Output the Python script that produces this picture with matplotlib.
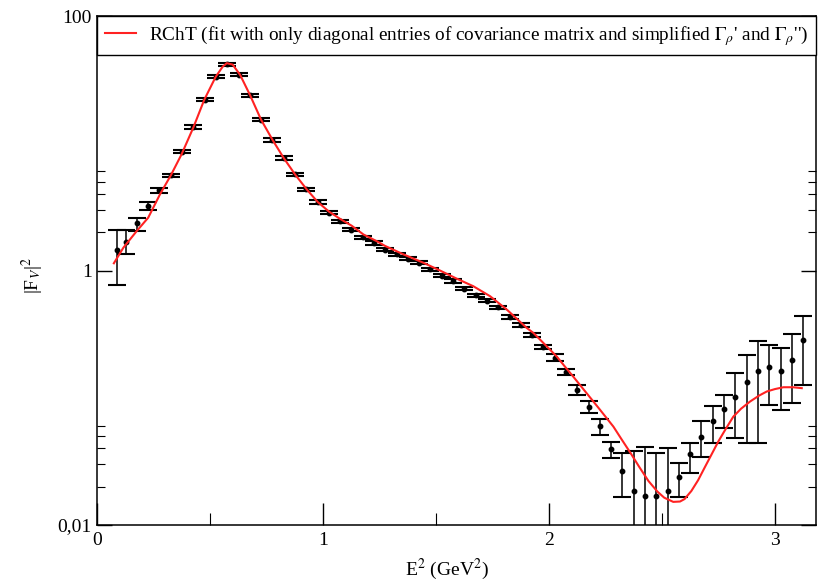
import matplotlib
matplotlib.use("Agg")
import matplotlib.pyplot as plt
from matplotlib.ticker import FixedLocator, NullFormatter

plt.rcParams['font.family'] = ['Liberation Serif', 'DejaVu Serif']
plt.rcParams['mathtext.fontset'] = 'stix'

# data points (E^2 in GeV^2, |F_V|^2)
x_data = [0.088, 0.125, 0.175, 0.225, 0.275, 0.325, 0.375, 0.425, 0.475, 0.525,
          0.575, 0.625, 0.675, 0.725, 0.775, 0.825, 0.875, 0.925, 0.975, 1.025,
          1.075, 1.125, 1.175, 1.225, 1.275, 1.325, 1.375, 1.425, 1.475, 1.525,
          1.575, 1.625, 1.675, 1.725, 1.775, 1.825, 1.875, 1.925, 1.975, 2.025,
          2.075, 2.125, 2.175, 2.225, 2.275, 2.325, 2.375, 2.425, 2.475, 2.525,
          2.575, 2.625, 2.675, 2.725, 2.775, 2.825, 2.875, 2.925, 2.975, 3.025,
          3.075, 3.125]
y_data = [1.44, 1.68, 2.37, 3.21, 4.26, 5.6, 8.6, 13.4, 21.9, 33.3,
          41.9, 34.5, 23.9, 15.3, 10.6, 7.66, 5.70, 4.34, 3.45, 2.85,
          2.44, 2.10, 1.83, 1.65, 1.46, 1.34, 1.24, 1.15, 1.02, 0.913,
          0.824, 0.718, 0.639, 0.580, 0.514, 0.432, 0.376, 0.313, 0.251, 0.207,
          0.159, 0.116, 0.0853, 0.0602, 0.0397, 0.0268, 0.0186, 0.0169, 0.0169, 0.0186,
          0.0238, 0.0362, 0.049, 0.0659, 0.0819, 0.101, 0.132, 0.163, 0.175, 0.163,
          0.199, 0.283]
y_low = [0.776, 1.35, 2.04, 2.98, 4.09, 5.43, 8.35, 13.0, 21.3, 32.3,
         40.7, 33.5, 23.2, 14.85, 10.3, 7.44, 5.53, 4.21, 3.35, 2.77,
         2.37, 2.04, 1.78, 1.60, 1.42, 1.30, 1.20, 1.115, 0.99, 0.886,
         0.80, 0.697, 0.620, 0.563, 0.499, 0.419, 0.363, 0.302, 0.242, 0.196,
         0.150, 0.105, 0.0758, 0.0511, 0.0335, 0.0167, 0.005, 0.005, 0.005, 0.005,
         0.0167, 0.0255, 0.0345, 0.0440, 0.0577, 0.0482, 0.0445, 0.0440, 0.0881, 0.0805,
         0.0908, 0.125]
y_high = [2.08, 2.08, 2.60, 3.45, 4.48, 5.77, 8.85, 13.8, 22.5, 34.3,
          43.1, 35.5, 24.6, 15.75, 10.9, 7.88, 5.87, 4.47, 3.55, 2.93,
          2.51, 2.16, 1.88, 1.70, 1.50, 1.38, 1.28, 1.185, 1.05, 0.940,
          0.85, 0.740, 0.658, 0.597, 0.529, 0.445, 0.389, 0.324, 0.260, 0.219,
          0.168, 0.125, 0.0935, 0.0680, 0.0448, 0.0371, 0.0385, 0.0409, 0.0367, 0.0402,
          0.0306, 0.0445, 0.0651, 0.0854, 0.1056, 0.156, 0.218, 0.277, 0.261, 0.246,
          0.318, 0.437]

# RChT fit curve
x_fit = [0.073, 0.115, 0.174, 0.225, 0.277, 0.326, 0.373, 0.425, 0.473, 0.524,
         0.555, 0.573, 0.599, 0.632, 0.676, 0.725, 0.776, 0.825, 0.875, 0.927,
         0.976, 1.026, 1.074, 1.126, 1.178, 1.237, 1.274, 1.355, 1.444, 1.517,
         1.593, 1.665, 1.739, 1.813, 1.901, 1.931, 2.004, 2.034, 2.07, 2.108,
         2.137, 2.175, 2.215, 2.25, 2.285, 2.32, 2.36, 2.40, 2.44, 2.48,
         2.51, 2.55, 2.58, 2.60, 2.63, 2.66, 2.69, 2.72, 2.75, 2.78,
         2.816, 2.85, 2.89, 2.93, 2.964, 3.00, 3.038, 3.08, 3.119]
y_fit = [1.14, 1.51, 2.04, 2.60, 3.96, 5.63, 8.2, 13.3, 21.9, 33.3,
         40.0, 42.6, 41.5, 34.5, 23.9, 15.3, 10.6, 7.66, 5.70, 4.34,
         3.45, 2.90, 2.55, 2.25, 1.92, 1.70, 1.56, 1.34, 1.15, 1.00,
         0.86, 0.752, 0.628, 0.493, 0.354, 0.323, 0.239, 0.211, 0.176, 0.146,
         0.126, 0.104, 0.085, 0.071, 0.0593, 0.0475, 0.0370, 0.0285, 0.0222, 0.0183,
         0.0164, 0.0152, 0.0153, 0.0160, 0.0185, 0.0225, 0.0285, 0.0360, 0.0455, 0.056,
         0.0711, 0.082, 0.0934, 0.104, 0.112, 0.117, 0.121, 0.121, 0.119]

legend_label = r"RChT (fit with only diagonal entries of covariance matrix and simplified $\Gamma_\rho$' and $\Gamma_\rho$'')"
x_label = r"E$^2$ (GeV$^2$)"
y_label = r"|F$_V$|$^2$"
x_major = [0, 1, 2, 3]
x_minor = [0.5, 1.5, 2.5]
y_major = [0.01, 1, 100]
y_major_labels = ["0,01", "1", "100"]
y_minor = [0.02, 0.03, 0.04, 0.05, 0.06, 2, 3, 4, 5, 6]

fig = plt.figure(figsize=(8.21, 5.82), dpi=100)
ax = fig.add_axes([0.1186, 0.0979, 0.8753, 0.8746])

yerr = [[y - lo for y, lo in zip(y_data, y_low)],
        [hi - y for y, hi in zip(y_data, y_high)]]
ax.errorbar(x_data, y_data, yerr=yerr, fmt='o', color='black', ms=3.2,
            elinewidth=1.1, capsize=6.3, capthick=1.5, zorder=2)
ax.plot(x_fit, y_fit, color='#ff2222', lw=1.5, label=legend_label, zorder=3)

ax.set_yscale('log')
ax.set_xlim(0, 3.182)
ax.set_ylim(0.01, 100)

ax.xaxis.set_major_locator(FixedLocator(x_major))
ax.xaxis.set_minor_locator(FixedLocator(x_minor))
ax.xaxis.set_minor_formatter(NullFormatter())
ax.set_xticklabels([str(v) for v in x_major])
ax.yaxis.set_major_locator(FixedLocator(y_major))
ax.yaxis.set_minor_locator(FixedLocator(y_minor))
ax.yaxis.set_minor_formatter(NullFormatter())
ax.set_yticklabels(y_major_labels)

ax.tick_params(axis='x', which='major', direction='in', length=15.5, width=1.0,
               labelsize=14, pad=5, top=False)
ax.tick_params(axis='x', which='minor', direction='in', length=8.5, width=0.8, top=False)
ax.tick_params(axis='y', which='major', direction='in', length=10.5, width=1.0,
               labelsize=14, pad=4, right=True)
ax.tick_params(axis='y', which='minor', direction='in', length=5.8, width=0.8, right=True)
for s in ax.spines.values():
    s.set_linewidth(1.1)

ax.set_xlabel(x_label, fontsize=14)
ax.xaxis.set_label_coords(0.487, -0.062)
ax.set_ylabel(y_label, fontsize=14)
ax.yaxis.set_label_coords(-0.072, 0.49)

leg = ax.legend(loc='upper left', bbox_to_anchor=(0, 0, 1, 1), mode='expand',
                borderaxespad=0, fancybox=False, edgecolor='black', fontsize=13.9,
                handlelength=1.6, handletextpad=0.65, borderpad=0.4, framealpha=1)
leg.get_frame().set_linewidth(1.0)

fig.savefig('out.png', dpi=100)
